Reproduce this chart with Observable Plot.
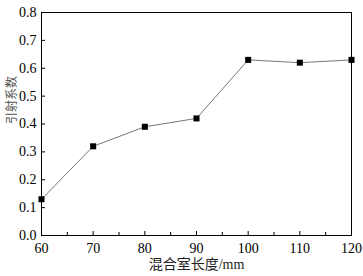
<!DOCTYPE html>
<html><head><meta charset="utf-8">
<script src="https://cdn.jsdelivr.net/npm/d3@7"></script>
<script src="https://cdn.jsdelivr.net/npm/@observablehq/plot@0.6"></script>
<style>body{margin:0;background:#fff}</style>
</head><body><div id="chart"></div>
<script>
const lengths = [60, 70, 80, 90, 100, 110, 120];
const coeffs = [0.13, 0.32, 0.39, 0.42, 0.63, 0.62, 0.63];
const xTicks = [60, 70, 80, 90, 100, 110, 120];
const xMinor = [65, 75, 85, 95, 105, 115];
const yTicks = [0, 0.1, 0.2, 0.3, 0.4, 0.5, 0.6, 0.7, 0.8];
const data = lengths.map((x, i) => ({x, y: coeffs[i]}));
const font = "'Liberation Serif', 'Noto Sans CJK SC', serif";
const chart = Plot.plot({
  width: 363, height: 276,
  marginLeft: 41, marginRight: 12, marginTop: 12, marginBottom: 41,
  style: {fontFamily: font, fontSize: "14px", color: "#000", background: "#fff"},
  x: {domain: [60, 120]},
  y: {domain: [0, 0.8]},
  marks: [
    Plot.frame({stroke: "#000", strokeWidth: 1}),
    Plot.axisX({ticks: xTicks, tickSize: -4, tickPadding: 12, tickFormat: d => String(d), label: null, fontSize: 14}),
    Plot.axisX({ticks: xMinor, tickSize: -3, text: null, label: null}),
    Plot.axisY({ticks: yTicks, tickSize: -4, tickPadding: 9, tickFormat: d => d.toFixed(1), label: null, fontSize: 14}),
    Plot.text(["混合室长度/mm"], {frameAnchor: "bottom", dy: 33, fontSize: 14, fill: "#222"}),
    Plot.text(["引射系数"], {frameAnchor: "left", dx: -29, rotate: -90, fontSize: 12, fill: "#555"}),
    Plot.line(data, {x: "x", y: "y", stroke: "#777", strokeWidth: 1}),
    Plot.dot(data, {x: "x", y: "y", symbol: "square", r: 3.4, fill: "#000", stroke: "none"})
  ]
});
document.getElementById("chart").append(chart);
</script></body></html>
